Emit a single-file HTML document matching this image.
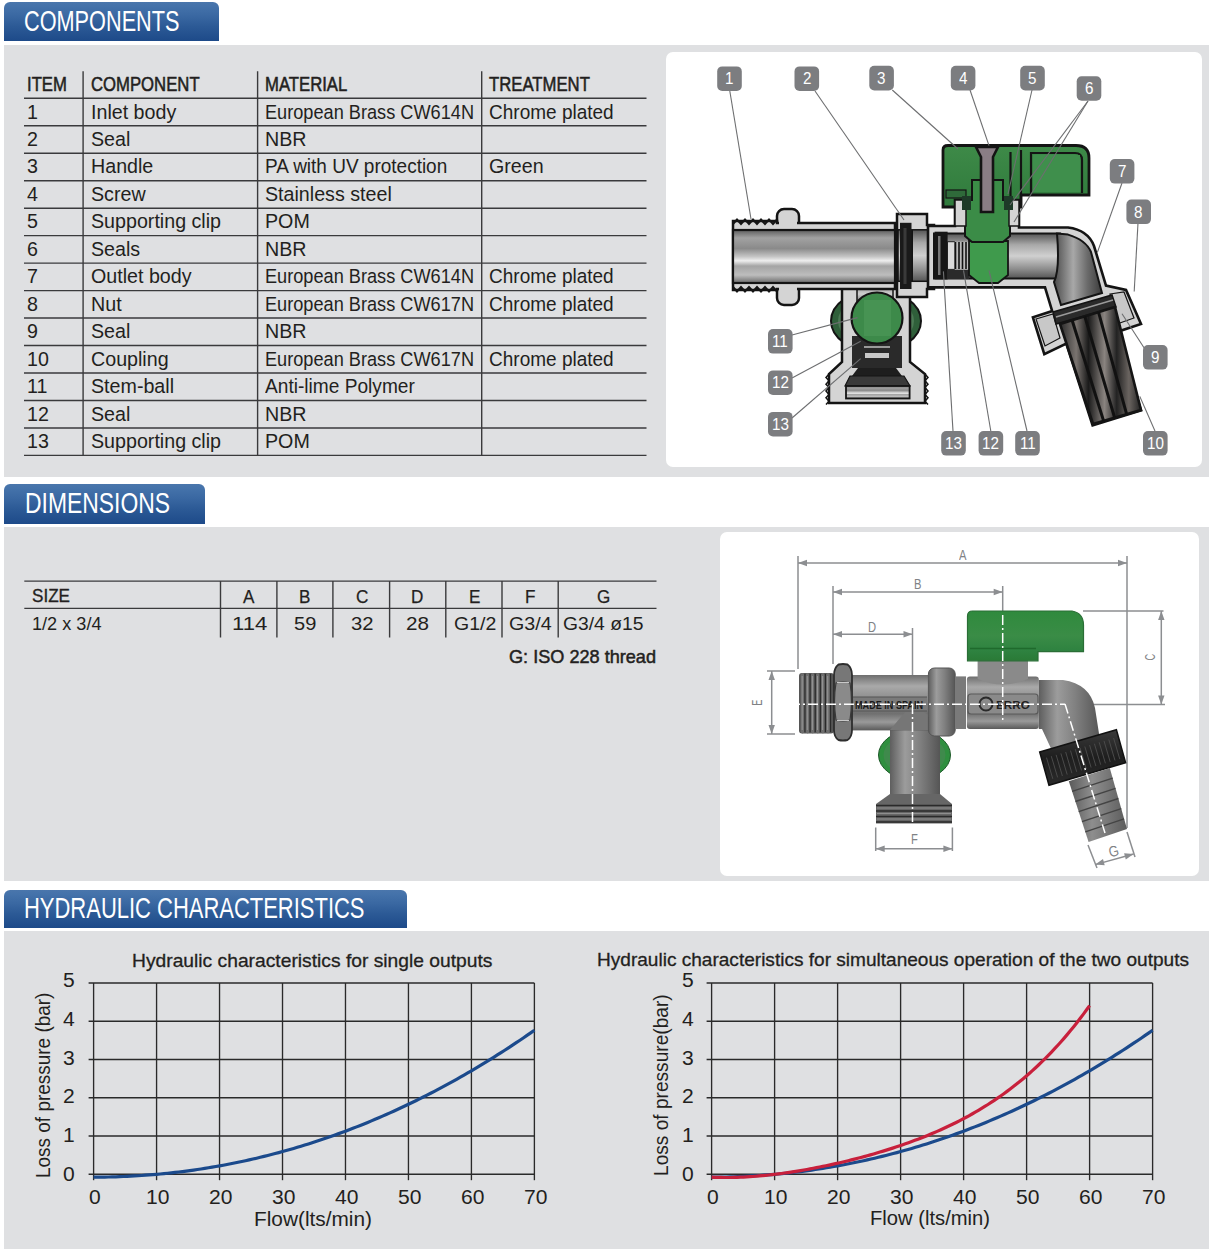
<!DOCTYPE html>
<html><head><meta charset="utf-8"><style>
html,body{margin:0;padding:0;background:#fff;width:1210px;height:1251px;overflow:hidden;position:relative}
.t{position:absolute;white-space:pre;line-height:1;transform-origin:0 0;font-family:"Liberation Sans", sans-serif}
.abs{position:absolute}
</style></head><body>
<div class=abs style="left:4px;top:45px;width:1205px;height:432.0px;background:#dfe0e2"></div>
<div class=abs style="left:4px;top:527px;width:1205px;height:353.6px;background:#dfe0e2"></div>
<div class=abs style="left:4px;top:931.4px;width:1205px;height:317.6px;background:#dfe0e2"></div>
<div class=abs style="left:4px;top:2px;width:215.0px;height:39.0px;border-radius:6px 6px 0 0;background:linear-gradient(#4a76ac 0%,#4472aa 12%,#3a68a2 35%,#2c5a96 62%,#1d4a89 100%)"></div>
<div class=abs style="left:4px;top:484.3px;width:200.5px;height:39.3px;border-radius:6px 6px 0 0;background:linear-gradient(#4a76ac 0%,#4472aa 12%,#3a68a2 35%,#2c5a96 62%,#1d4a89 100%)"></div>
<div class=abs style="left:4px;top:889.8px;width:403.0px;height:38.5px;border-radius:6px 6px 0 0;background:linear-gradient(#4a76ac 0%,#4472aa 12%,#3a68a2 35%,#2c5a96 62%,#1d4a89 100%)"></div>
<div class=abs style="left:666px;top:51.5px;width:536px;height:415.7px;border-radius:7px;background:#fff"></div>
<div class=abs style="left:719.8px;top:531.9px;width:479.3px;height:344px;border-radius:7px;background:#fff"></div>
<svg class=abs style="left:0;top:0" width="1210" height="1251" viewBox="0 0 1210 1251">
<defs>
<linearGradient id="bore" x1="0" y1="0" x2="0" y2="1">
 <stop offset="0" stop-color="#5e5e5e"/><stop offset="0.15" stop-color="#a2a2a2"/><stop offset="0.35" stop-color="#8a8a8a"/>
 <stop offset="0.5" stop-color="#c4c4c4"/><stop offset="0.58" stop-color="#eeeeee"/><stop offset="0.68" stop-color="#a4a4a4"/><stop offset="0.85" stop-color="#bdbdbd"/><stop offset="1" stop-color="#6a6a6a"/>
</linearGradient>
<linearGradient id="bore2" x1="0" y1="0" x2="0" y2="1">
 <stop offset="0" stop-color="#555"/><stop offset="0.25" stop-color="#a8a8a8"/><stop offset="0.5" stop-color="#d0d0d0"/><stop offset="0.8" stop-color="#8a8a8a"/><stop offset="1" stop-color="#555"/>
</linearGradient>
<linearGradient id="tail" x1="0" y1="0" x2="1" y2="0">
 <stop offset="0" stop-color="#2a2a2a"/><stop offset="0.2" stop-color="#7a7470"/><stop offset="0.35" stop-color="#1a1a1a"/><stop offset="0.55" stop-color="#8a8480"/><stop offset="0.7" stop-color="#222"/><stop offset="0.85" stop-color="#6a6460"/><stop offset="1" stop-color="#222"/>
</linearGradient>
<linearGradient id="elb" x1="0" y1="0" x2="1" y2="0">
 <stop offset="0" stop-color="#4a4a4a"/><stop offset="0.4" stop-color="#a8a8a8"/><stop offset="0.7" stop-color="#6a6a6a"/><stop offset="1" stop-color="#3a3a3a"/>
</linearGradient>
<linearGradient id="grn" x1="0" y1="0" x2="0" y2="1">
 <stop offset="0" stop-color="#3e8a48"/><stop offset="1" stop-color="#2f7a3c"/>
</linearGradient>
</defs>
<ellipse cx="876" cy="321" rx="45" ry="31" fill="#2f5f3a" stroke="#141414" stroke-width="2"/>
<ellipse cx="876" cy="321" rx="38" ry="26" fill="#4c7a55"/>
<path d="M842,285 L910,285 L910,362 L925,374 L925,403 L829,403 L829,374 L842,362 Z" fill="#d4d4d4" stroke="#141414" stroke-width="2.5"/>
<rect x="857" y="283" width="36" height="22" fill="url(#bore2)" stroke="#141414" stroke-width="1.5"/>
<path d="M852,336 L902,336 L902,368 L852,368 Z" fill="#2a2a2a"/>
<circle cx="877" cy="318" r="25.5" fill="#3d8a4a" stroke="#141414" stroke-width="2.2"/>
<rect x="864" y="300" width="27" height="36" fill="#4f9a5a" opacity="0.6"/>
<rect x="864" y="346" width="26" height="2" fill="#9a9a9a"/>
<rect x="865" y="353" width="24" height="5" fill="#c8c8c8"/>
<path d="M858,368 L896,368 L902,376 L852,376 Z" fill="#1e1e1e"/>
<path d="M850,376 L904,376 L910,386 L845,386 Z" fill="#3a3a3a" stroke="#141414" stroke-width="1.2"/>
<rect x="846" y="386" width="63.6" height="12.5" fill="url(#bore)" stroke="#141414" stroke-width="1.8"/>
<path d="M829,374 L826,377.4 L829,380.8 L826,384.2 L829,387.6 L826,391.0 L829,394.4 L826,397.8 L829,401.2 L826,404.6" fill="none" stroke="#141414" stroke-width="1.5"/>
<path d="M925,374 L928,377.4 L925,380.8 L928,384.2 L925,387.6 L928,391.0 L925,394.4 L928,397.8 L925,401.2 L928,404.6" fill="none" stroke="#141414" stroke-width="1.5"/>
<rect x="777" y="209" width="22" height="96" rx="7" fill="#d4d4d4" stroke="#141414" stroke-width="2.5"/>
<path d="M733,221 L777,221 L777,223 L895,223 L895,289 L777,289 L777,290 L733,290 Z" fill="#d4d4d4" stroke="#141414" stroke-width="2.5"/>
<rect x="779" y="213" width="18" height="88" fill="#d4d4d4"/>
<path d="M733,224 L737.0,219.5 L741.0,224 L745.0,219.5 L749.0,224 L753.0,219.5 L757.0,224 L761.0,219.5 L765.0,224 L769.0,219.5 L773.0,224 L777.0,219.5" fill="none" stroke="#141414" stroke-width="2"/>
<path d="M733,287 L737.0,291.5 L741.0,287 L745.0,291.5 L749.0,287 L753.0,291.5 L757.0,287 L761.0,291.5 L765.0,287 L769.0,291.5 L773.0,287 L777.0,291.5" fill="none" stroke="#141414" stroke-width="2"/>
<rect x="733" y="230" width="162" height="53" fill="url(#bore)" stroke="#141414" stroke-width="2.2"/>
<path d="M897,214 L927,214 L927,225 L934,225 L934,289 L927,289 L927,297 L897,297 Z" fill="#d4d4d4" stroke="#141414" stroke-width="2.5"/>
<rect x="898" y="229.8" width="36" height="51.5" fill="url(#bore2)" stroke="#141414" stroke-width="1.5"/>
<line x1="912" y1="230" x2="912" y2="281" stroke="#141414" stroke-width="2"/>
<line x1="931.5" y1="230" x2="931.5" y2="281" stroke="#141414" stroke-width="2.2"/>
<rect x="900" y="222.8" width="11.5" height="66.2" fill="#1a1a1a"/>
<rect x="903.5" y="228" width="3" height="56" fill="#3a3a3a"/>
<path d="M943,150 Q943,145.5 948,145.5 L1076,145.5 Q1089,145.5 1089,158 L1089,195 L1021,195 L1021,207 L943,207 Z" fill="url(#grn)" stroke="#141414" stroke-width="2.8"/>
<path d="M1032,153 L1075,153 Q1082,153 1082,160 L1082,193" fill="#3a8a48" stroke="#141414" stroke-width="2.2"/>
<rect x="1033" y="155" width="47" height="37" fill="#3f8f4c"/>
<line x1="1031" y1="152" x2="1031" y2="195" stroke="#141414" stroke-width="2.2"/>
<line x1="1021" y1="150" x2="1021" y2="205" stroke="#141414" stroke-width="2.2"/>
<line x1="1010.5" y1="152" x2="1010.5" y2="200" stroke="#141414" stroke-width="2.2"/>
<rect x="946" y="190" width="20" height="8" fill="#2f6a3a" stroke="#141414" stroke-width="1.2"/>
<path d="M928,226 L955,226 L955,200 L1019,200 L1019,227.5 L1068,227.5 Q1088,230 1094,246 L1106,285.6 L1126,290 L1141,324 L1119,331.3 L1115.5,329.6 L1141,410.4 L1092.6,425.4 L1066.3,343.6 L1044.3,354.2 L1032.9,317.3 L1052.2,311.1 L1045,287.4 L928,287.4 Z" fill="#d4d4d4" stroke="#141414" stroke-width="2.6"/>
<rect x="934" y="233.5" width="126" height="45" fill="url(#bore2)" stroke="#141414" stroke-width="2"/>
<path d="M1057,233.5 L1068,234.6 Q1086,240 1091,252 L1102,293 L1061,305 L1054,282 Q1060,270 1057,233.5 Z" fill="url(#elb)" stroke="#141414" stroke-width="2"/>
<path d="M1036,319 L1053,314 L1060,338 L1045,346 Z" fill="#c8c8c8" stroke="#141414" stroke-width="1.2"/>
<path d="M1110,294 L1124,292 L1134,318 L1117,324 Z" fill="#c8c8c8" stroke="#141414" stroke-width="1.2"/>
<path d="M1053,312 L1112,295 L1116,307 L1056,324 Z" fill="#2a2a2a" stroke="#141414" stroke-width="1.5"/>
<path d="M1056,317 L1113,300" stroke="#9a9a9a" stroke-width="1.5"/>
<path d="M1060,324 L1115,307 L1141,410 L1093,424 Z" fill="url(#tail)" stroke="#141414" stroke-width="2.6" />
<line x1="1072.1" y1="320.3" x2="1103.6" y2="420.9" stroke="#111" stroke-width="3"/>
<line x1="1084.8" y1="316.4" x2="1114.6" y2="417.7" stroke="#111" stroke-width="3"/>
<line x1="1098.5" y1="312.1" x2="1126.6" y2="414.2" stroke="#111" stroke-width="3"/>
<rect x="934.6" y="231.7" width="13" height="47.7" fill="#161616"/>
<rect x="938" y="236" width="2.5" height="39" fill="#777"/>
<rect x="947.5" y="241.7" width="7" height="27.7" fill="#dadada" stroke="#222" stroke-width="1"/>
<rect x="954.5" y="241.7" width="15" height="27.7" fill="#bbb"/>
<line x1="955.5" y1="242" x2="955.5" y2="269" stroke="#111" stroke-width="1.6"/>
<line x1="959" y1="242" x2="959" y2="269" stroke="#111" stroke-width="1.6"/>
<line x1="962.5" y1="242" x2="962.5" y2="269" stroke="#111" stroke-width="1.6"/>
<line x1="966" y1="242" x2="966" y2="269" stroke="#111" stroke-width="1.6"/>
<path d="M947,270 L969,270 L969,279 L947,279 Z" fill="#2a2a2a"/>
<path d="M969,241 L1008,241 L1008,275 L998,283 L979,283 L969,275 Z" fill="#3f9a4c" stroke="#141414" stroke-width="1.8"/>
<path d="M972,180 L1003,180 L1003,200 L1010,200 L1010,236 L1003,242 L972,242 L965,236 L965,200 L972,200 Z" fill="#3b8c47" stroke="#141414" stroke-width="2"/>
<path d="M955,200 L966,200 L966,226 L955,226 Z" fill="#d4d4d4" stroke="#141414" stroke-width="1.5"/>
<path d="M1009,200 L1019,200 L1019,226 L1009,226 Z" fill="#d4d4d4" stroke="#141414" stroke-width="1.5"/>
<rect x="962" y="196" width="9" height="14" fill="#1e3a28"/>
<rect x="1004" y="196" width="9" height="14" fill="#1e3a28"/>
<path d="M976,147 L998,147 L993,157 L993,212 L981,212 L981,157 Z" fill="#8a7d85" stroke="#141414" stroke-width="2.6"/>
<line x1="729.8" y1="91" x2="751" y2="219" stroke="#6d6e70" stroke-width="1.1"/>
<line x1="815" y1="91" x2="904" y2="220" stroke="#6d6e70" stroke-width="1.1"/>
<line x1="892.3" y1="90" x2="958" y2="149" stroke="#6d6e70" stroke-width="1.1"/>
<line x1="970" y1="90" x2="989" y2="145.6" stroke="#6d6e70" stroke-width="1.1"/>
<line x1="1032" y1="90" x2="1008" y2="194" stroke="#6d6e70" stroke-width="1.1"/>
<line x1="1088" y1="101" x2="1010" y2="205" stroke="#6d6e70" stroke-width="1.1"/>
<line x1="1088" y1="101" x2="1014" y2="222" stroke="#6d6e70" stroke-width="1.1"/>
<line x1="1122" y1="183" x2="1097.4" y2="252.4" stroke="#6d6e70" stroke-width="1.1"/>
<line x1="1138" y1="223" x2="1134.2" y2="291.5" stroke="#6d6e70" stroke-width="1.1"/>
<line x1="1150" y1="357" x2="1122" y2="313.8" stroke="#6d6e70" stroke-width="1.1"/>
<line x1="1155" y1="431" x2="1139.8" y2="396.4" stroke="#6d6e70" stroke-width="1.1"/>
<line x1="1027" y1="431" x2="989" y2="270.3" stroke="#6d6e70" stroke-width="1.1"/>
<line x1="990.8" y1="431" x2="963.5" y2="270.3" stroke="#6d6e70" stroke-width="1.1"/>
<line x1="953" y1="431" x2="943.4" y2="271.4" stroke="#6d6e70" stroke-width="1.1"/>
<line x1="792" y1="335" x2="857.5" y2="317.6" stroke="#6d6e70" stroke-width="1.1"/>
<line x1="792" y1="378" x2="860.7" y2="341.3" stroke="#6d6e70" stroke-width="1.1"/>
<line x1="792" y1="418" x2="860.7" y2="358.6" stroke="#6d6e70" stroke-width="1.1"/>
<rect x="717.2" y="66.4" width="24.6" height="24.6" rx="5" fill="#7c7d80"/>
<rect x="794.5" y="66.4" width="24.6" height="24.6" rx="5" fill="#7c7d80"/>
<rect x="869.3" y="65.8" width="24.6" height="24.6" rx="5" fill="#7c7d80"/>
<rect x="950.8" y="65.8" width="24.6" height="24.6" rx="5" fill="#7c7d80"/>
<rect x="1020.2" y="65.8" width="24.6" height="24.6" rx="5" fill="#7c7d80"/>
<rect x="1076.7" y="76.2" width="24.6" height="24.6" rx="5" fill="#7c7d80"/>
<rect x="1109.8" y="159" width="24.6" height="24.6" rx="5" fill="#7c7d80"/>
<rect x="1126.4" y="199.5" width="24.6" height="24.6" rx="5" fill="#7c7d80"/>
<rect x="1143" y="345" width="24.6" height="24.6" rx="5" fill="#7c7d80"/>
<rect x="1143" y="431" width="24.6" height="24.6" rx="5" fill="#7c7d80"/>
<rect x="1015.2" y="431" width="24.6" height="24.6" rx="5" fill="#7c7d80"/>
<rect x="978.6" y="431" width="24.6" height="24.6" rx="5" fill="#7c7d80"/>
<rect x="941.2" y="431" width="24.6" height="24.6" rx="5" fill="#7c7d80"/>
<rect x="768" y="329" width="24.6" height="24.6" rx="5" fill="#7c7d80"/>
<rect x="768" y="370.4" width="24.6" height="24.6" rx="5" fill="#7c7d80"/>
<rect x="768" y="411.9" width="24.6" height="24.6" rx="5" fill="#7c7d80"/>
</svg>
<svg class=abs style="left:0;top:0" width="1210" height="1251" viewBox="0 0 1210 1251">
<defs>
<linearGradient id="dpipe" x1="0" y1="0" x2="0" y2="1">
 <stop offset="0" stop-color="#6e6e6e"/><stop offset="0.2" stop-color="#a9a9a9"/><stop offset="0.45" stop-color="#8a8a8a"/><stop offset="0.7" stop-color="#707070"/><stop offset="0.85" stop-color="#9a9a9a"/><stop offset="1" stop-color="#5a5a5a"/>
</linearGradient>
<linearGradient id="dvert" x1="0" y1="0" x2="1" y2="0">
 <stop offset="0" stop-color="#5e5e5e"/><stop offset="0.3" stop-color="#9c9c9c"/><stop offset="0.6" stop-color="#808080"/><stop offset="1" stop-color="#555"/>
</linearGradient>
<linearGradient id="dthread" x1="0" y1="0" x2="1" y2="0">
 <stop offset="0" stop-color="#505050"/><stop offset="1" stop-color="#6a6a6a"/>
</linearGradient>
<linearGradient id="dgrn" x1="0" y1="0" x2="0" y2="1">
 <stop offset="0" stop-color="#2f8a3d"/><stop offset="0.5" stop-color="#3a8c46"/><stop offset="0.8" stop-color="#2e8240"/><stop offset="1" stop-color="#2a7a36"/>
</linearGradient>
<linearGradient id="dnut" x1="0" y1="0" x2="0" y2="1">
 <stop offset="0" stop-color="#3a3a3a"/><stop offset="0.5" stop-color="#1e1e1e"/><stop offset="1" stop-color="#2a2a2a"/>
</linearGradient>
<linearGradient id="dtail" x1="0" y1="0" x2="1" y2="0">
 <stop offset="0" stop-color="#5a5a5a"/><stop offset="0.4" stop-color="#8e8e8e"/><stop offset="1" stop-color="#5c5c5c"/>
</linearGradient>
</defs>
<line x1="798" y1="563" x2="1127" y2="563" stroke="#8c8e91" stroke-width="1.5"/>
<path d="M1127.0,563.0 L1118.0,566.2 L1118.0,559.8 Z" fill="#8c8e91"/>
<path d="M798.0,563.0 L807.0,559.8 L807.0,566.2 Z" fill="#8c8e91"/>
<line x1="798" y1="556" x2="798" y2="669" stroke="#8c8e91" stroke-width="1.5"/>
<line x1="1127" y1="556" x2="1127" y2="828" stroke="#8c8e91" stroke-width="1.5"/>
<line x1="833" y1="592" x2="1002.7" y2="592" stroke="#8c8e91" stroke-width="1.5"/>
<path d="M1002.7,592.0 L993.7,595.2 L993.7,588.8 Z" fill="#8c8e91"/>
<path d="M833.0,592.0 L842.0,588.8 L842.0,595.2 Z" fill="#8c8e91"/>
<line x1="833" y1="586" x2="833" y2="664" stroke="#8c8e91" stroke-width="1.5"/>
<line x1="1002.7" y1="586" x2="1002.7" y2="611" stroke="#8c8e91" stroke-width="1.5"/>
<line x1="833" y1="634.2" x2="912.5" y2="634.2" stroke="#8c8e91" stroke-width="1.5"/>
<path d="M912.5,634.2 L903.5,637.4 L903.5,631.0 Z" fill="#8c8e91"/>
<path d="M833.0,634.2 L842.0,631.0 L842.0,637.4 Z" fill="#8c8e91"/>
<line x1="912.5" y1="628" x2="912.5" y2="700" stroke="#8c8e91" stroke-width="1.5"/>
<line x1="1161.3" y1="611" x2="1161.3" y2="704.4" stroke="#8c8e91" stroke-width="1.5"/>
<path d="M1161.3,704.4 L1158.1,695.4 L1164.5,695.4 Z" fill="#8c8e91"/>
<path d="M1161.3,611.0 L1164.5,620.0 L1158.1,620.0 Z" fill="#8c8e91"/>
<line x1="1083" y1="611" x2="1163.5" y2="611" stroke="#8c8e91" stroke-width="1.5"/>
<line x1="1090" y1="704.4" x2="1165" y2="704.4" stroke="#8c8e91" stroke-width="1.5"/>
<line x1="771.7" y1="671" x2="771.7" y2="734" stroke="#8c8e91" stroke-width="1.5"/>
<path d="M771.7,734.0 L768.5,725.0 L774.9,725.0 Z" fill="#8c8e91"/>
<path d="M771.7,671.0 L774.9,680.0 L768.5,680.0 Z" fill="#8c8e91"/>
<line x1="767" y1="671" x2="795" y2="671" stroke="#8c8e91" stroke-width="1.5"/>
<line x1="767" y1="734" x2="795" y2="734" stroke="#8c8e91" stroke-width="1.5"/>
<line x1="875.7" y1="848.7" x2="952.4" y2="848.7" stroke="#8c8e91" stroke-width="1.5"/>
<path d="M952.4,848.7 L943.4,851.9 L943.4,845.5 Z" fill="#8c8e91"/>
<path d="M875.7,848.7 L884.7,845.5 L884.7,851.9 Z" fill="#8c8e91"/>
<line x1="875.7" y1="827.5" x2="875.7" y2="851" stroke="#8c8e91" stroke-width="1.5"/>
<line x1="952.4" y1="827.5" x2="952.4" y2="851" stroke="#8c8e91" stroke-width="1.5"/>
<line x1="1095.2" y1="864.6" x2="1133.6" y2="854" stroke="#8c8e91" stroke-width="1.5"/>
<path d="M1133.6,854.0 L1125.8,859.5 L1124.1,853.3 Z" fill="#8c8e91"/>
<path d="M1095.2,864.6 L1103.0,859.1 L1104.7,865.3 Z" fill="#8c8e91"/>
<line x1="1088" y1="845" x2="1097" y2="868" stroke="#8c8e91" stroke-width="1.5"/>
<line x1="1127" y1="832" x2="1135" y2="857" stroke="#8c8e91" stroke-width="1.5"/>
<ellipse cx="914.5" cy="755" rx="36" ry="25" fill="#2f8f3f" stroke="#1d5a28" stroke-width="1"/>
<ellipse cx="914.5" cy="755" rx="31" ry="21" fill="#3f8a4c"/>
<path d="M890,794 L890,730 L905,712 L924,712 L940,729 L940,794 Z" fill="url(#dvert)"/>
<path d="M890,794 L940,794 L952,804 L952,823.5 L876,823.5 L876,804 Z" fill="#666"/>
<line x1="876" y1="805.5" x2="952" y2="805.5" stroke="#2a2a2a" stroke-width="1.7"/>
<line x1="876" y1="811" x2="952" y2="811" stroke="#2a2a2a" stroke-width="1.7"/>
<line x1="876" y1="816.5" x2="952" y2="816.5" stroke="#2a2a2a" stroke-width="1.7"/>
<line x1="876" y1="822" x2="952" y2="822" stroke="#2a2a2a" stroke-width="1.7"/>
<line x1="877" y1="808" x2="951" y2="808" stroke="#8e8e8e" stroke-width="1.2"/>
<line x1="877" y1="813.5" x2="951" y2="813.5" stroke="#8e8e8e" stroke-width="1.2"/>
<line x1="877" y1="819" x2="951" y2="819" stroke="#8e8e8e" stroke-width="1.2"/>
<rect x="799" y="673" width="35" height="60.4" rx="3" fill="#555"/>
<rect x="800.7" y="673" width="3.6" height="60.4" rx="1.8" fill="#6e6e6e"/>
<line x1="802.2" y1="676" x2="802.2" y2="730" stroke="#9a9a9a" stroke-width="0.9"/>
<line x1="805.0" y1="674" x2="805.0" y2="732" stroke="#2a2a2a" stroke-width="1.2"/>
<rect x="805.8" y="673" width="3.6" height="60.4" rx="1.8" fill="#6e6e6e"/>
<line x1="807.3" y1="676" x2="807.3" y2="730" stroke="#9a9a9a" stroke-width="0.9"/>
<line x1="810.1" y1="674" x2="810.1" y2="732" stroke="#2a2a2a" stroke-width="1.2"/>
<rect x="810.9" y="673" width="3.6" height="60.4" rx="1.8" fill="#6e6e6e"/>
<line x1="812.4" y1="676" x2="812.4" y2="730" stroke="#9a9a9a" stroke-width="0.9"/>
<line x1="815.2" y1="674" x2="815.2" y2="732" stroke="#2a2a2a" stroke-width="1.2"/>
<rect x="816.0" y="673" width="3.6" height="60.4" rx="1.8" fill="#6e6e6e"/>
<line x1="817.5" y1="676" x2="817.5" y2="730" stroke="#9a9a9a" stroke-width="0.9"/>
<line x1="820.3" y1="674" x2="820.3" y2="732" stroke="#2a2a2a" stroke-width="1.2"/>
<rect x="821.1" y="673" width="3.6" height="60.4" rx="1.8" fill="#6e6e6e"/>
<line x1="822.6" y1="676" x2="822.6" y2="730" stroke="#9a9a9a" stroke-width="0.9"/>
<line x1="825.4" y1="674" x2="825.4" y2="732" stroke="#2a2a2a" stroke-width="1.2"/>
<rect x="826.2" y="673" width="3.6" height="60.4" rx="1.8" fill="#6e6e6e"/>
<line x1="827.7" y1="676" x2="827.7" y2="730" stroke="#9a9a9a" stroke-width="0.9"/>
<line x1="830.5" y1="674" x2="830.5" y2="732" stroke="#2a2a2a" stroke-width="1.2"/>
<rect x="852" y="675" width="76.4" height="55.4" fill="url(#dpipe)"/>
<rect x="853" y="697" width="74" height="14" fill="#7a7a7a"/>
<path d="M853,697 L927,697 M853,711 L927,711" stroke="#555" stroke-width="1"/>
<text x="855" y="708.5" font-family="Liberation Sans" font-size="10.5" font-weight="700" fill="#1a1a1a" textLength="68" lengthAdjust="spacingAndGlyphs">MADE IN SPAIN</text>
<path d="M838.5,664.5 Q843,663.5 847.5,664.5 Q852,668 852,675 L852,730 Q852,737 847.5,740 Q843,741 838.5,740 Q834,737 834,730 L834,675 Q834,668 838.5,664.5 Z" fill="#777" stroke="#2e2e2e" stroke-width="1.8"/>
<path d="M836,683 Q843,681 850,683 Q853,701 850,720 Q843,722 836,720 Q833,701 836,683 Z" fill="#8a8a8a" stroke="#3a3a3a" stroke-width="1.2"/>
<path d="M837,682.5 L849,682.5 M837,720.5 L849,720.5" stroke="#c8c8c8" stroke-width="1.2"/>
<path d="M890,730 L905,712 L924,712 L928.4,716 L928.4,730 Z" fill="#767676"/>
<rect x="928.4" y="668" width="26.8" height="68" rx="6" fill="url(#dvert)" stroke="#555" stroke-width="1"/>
<rect x="955" y="676.4" width="11" height="52.6" fill="#7a7a7a"/>
<rect x="966.9" y="676.4" width="71.9" height="52.6" rx="3" fill="url(#dpipe)"/>
<rect x="968" y="694" width="70" height="20" rx="3" fill="#8a8a8a" stroke="#5a5a5a" stroke-width="1.2"/>
<circle cx="986" cy="704" r="6.5" fill="none" stroke="#2a2a2a" stroke-width="2"/>
<text x="996" y="708.5" font-family="Liberation Sans" font-size="11" font-weight="700" fill="#222" textLength="34" lengthAdjust="spacingAndGlyphs">ERRO</text>
<path d="M977.6,660 L1028,660 L1028,679 Q1003,690 977.6,679 Z" fill="#8a8a8a"/>
<path d="M1038.8,680 L1063,680 Q1090,684 1095,708 L1100,740 L1054,755 L1042,729 L1038.8,729 Z" fill="url(#dvert)"/>
<path d="M967.5,616 Q967.5,611 972.5,611 L1072,611 Q1083.5,613 1083.5,625 L1083.5,651.7 L1038,651.7 L1038,660.8 L967.5,660.8 Z" fill="url(#dgrn)" stroke="#2a6e36" stroke-width="1.2"/>
<path d="M970,648.5 L1036,648.5" stroke="#1f6a2c" stroke-width="1.6"/>
<path d="M1039.7,752 L1116.4,729.7 L1125.6,762.7 L1049,785.2 Z" fill="url(#dnut)" stroke="#111" stroke-width="1.5"/>
<line x1="1046.5" y1="757.6" x2="1052.8" y2="778.8" stroke="#4a4a4a" stroke-width="1"/>
<line x1="1051.3" y1="756.2" x2="1057.6" y2="777.4" stroke="#4a4a4a" stroke-width="1"/>
<line x1="1056.1" y1="754.8" x2="1062.4" y2="776.0" stroke="#4a4a4a" stroke-width="1"/>
<line x1="1060.9" y1="753.4" x2="1067.2" y2="774.6" stroke="#4a4a4a" stroke-width="1"/>
<line x1="1065.7" y1="752.0" x2="1071.9" y2="773.2" stroke="#4a4a4a" stroke-width="1"/>
<line x1="1070.5" y1="750.6" x2="1076.7" y2="771.8" stroke="#4a4a4a" stroke-width="1"/>
<line x1="1075.3" y1="749.2" x2="1081.5" y2="770.4" stroke="#4a4a4a" stroke-width="1"/>
<line x1="1080.1" y1="747.9" x2="1086.3" y2="769.0" stroke="#4a4a4a" stroke-width="1"/>
<line x1="1084.8" y1="746.5" x2="1091.1" y2="767.5" stroke="#4a4a4a" stroke-width="1"/>
<line x1="1089.6" y1="745.1" x2="1095.9" y2="766.1" stroke="#4a4a4a" stroke-width="1"/>
<line x1="1094.4" y1="743.7" x2="1100.7" y2="764.7" stroke="#4a4a4a" stroke-width="1"/>
<line x1="1099.2" y1="742.3" x2="1105.4" y2="763.3" stroke="#4a4a4a" stroke-width="1"/>
<line x1="1104.0" y1="740.9" x2="1110.2" y2="761.9" stroke="#4a4a4a" stroke-width="1"/>
<line x1="1108.8" y1="739.5" x2="1115.0" y2="760.5" stroke="#4a4a4a" stroke-width="1"/>
<line x1="1113.6" y1="738.1" x2="1119.8" y2="759.1" stroke="#4a4a4a" stroke-width="1"/>
<path d="M1068.8,781.2 L1109.8,768 L1127,828.9 L1088.6,842 Z" fill="url(#dtail)"/>
<line x1="1072.1" y1="791.3" x2="1112.7" y2="778.1" stroke="#444" stroke-width="1.4"/>
<line x1="1075.4" y1="801.5" x2="1115.5" y2="788.3" stroke="#444" stroke-width="1.4"/>
<line x1="1078.7" y1="811.6" x2="1118.4" y2="798.5" stroke="#444" stroke-width="1.4"/>
<line x1="1082.0" y1="821.7" x2="1121.3" y2="808.6" stroke="#444" stroke-width="1.4"/>
<line x1="1085.3" y1="831.9" x2="1124.1" y2="818.8" stroke="#444" stroke-width="1.4"/>
<line x1="790" y1="704.2" x2="1065" y2="704.2" stroke="#ffffff" stroke-width="1.5" stroke-dasharray="10,3,2,3"/>
<line x1="1002.7" y1="615" x2="1002.7" y2="720" stroke="#ffffff" stroke-width="1.5" stroke-dasharray="10,3,2,3"/>
<line x1="912.5" y1="704" x2="912.5" y2="823" stroke="#ffffff" stroke-width="1.5" stroke-dasharray="10,3,2,3"/>
<line x1="1065" y1="704" x2="1105" y2="833" stroke="#ffffff" stroke-width="1.5" stroke-dasharray="10,3,2,3"/>
<text transform="translate(1150.3,657.1) rotate(-90) scale(0.62,1)" text-anchor="middle" dominant-baseline="central" font-family="Liberation Sans" font-size="15" fill="#808285">C</text>
<text transform="translate(757.5,702.6) rotate(-90) scale(0.62,1)" text-anchor="middle" dominant-baseline="central" font-family="Liberation Sans" font-size="15" fill="#808285">E</text>
<text transform="translate(1113.7,851) rotate(-15) scale(0.85,1)" text-anchor="middle" dominant-baseline="central" font-family="Liberation Sans" font-size="15" fill="#808285">G</text>
</svg>
<svg class=abs style="left:0;top:0" width="1210" height="1251" viewBox="0 0 1210 1251">
<line x1="24" y1="98.30" x2="646.5" y2="98.30" stroke="#3a3a3c" stroke-width="1.4"/>
<line x1="24" y1="125.77" x2="646.5" y2="125.77" stroke="#3a3a3c" stroke-width="1.4"/>
<line x1="24" y1="153.24" x2="646.5" y2="153.24" stroke="#3a3a3c" stroke-width="1.4"/>
<line x1="24" y1="180.71" x2="646.5" y2="180.71" stroke="#3a3a3c" stroke-width="1.4"/>
<line x1="24" y1="208.18" x2="646.5" y2="208.18" stroke="#3a3a3c" stroke-width="1.4"/>
<line x1="24" y1="235.65" x2="646.5" y2="235.65" stroke="#3a3a3c" stroke-width="1.4"/>
<line x1="24" y1="263.12" x2="646.5" y2="263.12" stroke="#3a3a3c" stroke-width="1.4"/>
<line x1="24" y1="290.59" x2="646.5" y2="290.59" stroke="#3a3a3c" stroke-width="1.4"/>
<line x1="24" y1="318.06" x2="646.5" y2="318.06" stroke="#3a3a3c" stroke-width="1.4"/>
<line x1="24" y1="345.53" x2="646.5" y2="345.53" stroke="#3a3a3c" stroke-width="1.4"/>
<line x1="24" y1="373.00" x2="646.5" y2="373.00" stroke="#3a3a3c" stroke-width="1.4"/>
<line x1="24" y1="400.47" x2="646.5" y2="400.47" stroke="#3a3a3c" stroke-width="1.4"/>
<line x1="24" y1="427.94" x2="646.5" y2="427.94" stroke="#3a3a3c" stroke-width="1.4"/>
<line x1="24" y1="455.41" x2="646.5" y2="455.41" stroke="#3a3a3c" stroke-width="1.4"/>
<line x1="83.1" y1="71.2" x2="83.1" y2="455.4" stroke="#3a3a3c" stroke-width="1.4"/>
<line x1="257.6" y1="71.2" x2="257.6" y2="455.4" stroke="#3a3a3c" stroke-width="1.4"/>
<line x1="481.7" y1="71.2" x2="481.7" y2="455.4" stroke="#3a3a3c" stroke-width="1.4"/>
<line x1="24.3" y1="581.1" x2="656.5" y2="581.1" stroke="#3a3a3c" stroke-width="1.4"/>
<line x1="24.3" y1="608.4" x2="656.5" y2="608.4" stroke="#3a3a3c" stroke-width="1.4"/>
<line x1="220.5" y1="581.1" x2="220.5" y2="637.5" stroke="#3a3a3c" stroke-width="1.4"/>
<line x1="276.9" y1="581.1" x2="276.9" y2="637.5" stroke="#3a3a3c" stroke-width="1.4"/>
<line x1="332.9" y1="581.1" x2="332.9" y2="637.5" stroke="#3a3a3c" stroke-width="1.4"/>
<line x1="389.6" y1="581.1" x2="389.6" y2="637.5" stroke="#3a3a3c" stroke-width="1.4"/>
<line x1="445.8" y1="581.1" x2="445.8" y2="637.5" stroke="#3a3a3c" stroke-width="1.4"/>
<line x1="502" y1="581.1" x2="502" y2="637.5" stroke="#3a3a3c" stroke-width="1.4"/>
<line x1="558.2" y1="581.1" x2="558.2" y2="637.5" stroke="#3a3a3c" stroke-width="1.4"/>
<line x1="88.6" y1="1174.20" x2="534.39" y2="1174.20" stroke="#2a2a2a" stroke-width="1.35"/>
<line x1="88.6" y1="1135.96" x2="534.39" y2="1135.96" stroke="#2a2a2a" stroke-width="1.35"/>
<line x1="88.6" y1="1097.72" x2="534.39" y2="1097.72" stroke="#2a2a2a" stroke-width="1.35"/>
<line x1="88.6" y1="1059.48" x2="534.39" y2="1059.48" stroke="#2a2a2a" stroke-width="1.35"/>
<line x1="88.6" y1="1021.24" x2="534.39" y2="1021.24" stroke="#2a2a2a" stroke-width="1.35"/>
<line x1="88.6" y1="983.00" x2="534.39" y2="983.00" stroke="#2a2a2a" stroke-width="1.35"/>
<line x1="93.60" y1="983.00" x2="93.60" y2="1180.20" stroke="#2a2a2a" stroke-width="1.35"/>
<line x1="156.57" y1="983.00" x2="156.57" y2="1180.20" stroke="#2a2a2a" stroke-width="1.35"/>
<line x1="219.54" y1="983.00" x2="219.54" y2="1180.20" stroke="#2a2a2a" stroke-width="1.35"/>
<line x1="282.51" y1="983.00" x2="282.51" y2="1180.20" stroke="#2a2a2a" stroke-width="1.35"/>
<line x1="345.48" y1="983.00" x2="345.48" y2="1180.20" stroke="#2a2a2a" stroke-width="1.35"/>
<line x1="408.45" y1="983.00" x2="408.45" y2="1180.20" stroke="#2a2a2a" stroke-width="1.35"/>
<line x1="471.42" y1="983.00" x2="471.42" y2="1180.20" stroke="#2a2a2a" stroke-width="1.35"/>
<line x1="534.39" y1="983.00" x2="534.39" y2="1180.20" stroke="#2a2a2a" stroke-width="1.35"/>
<path d="M93.60,1177.18 L97.30,1177.16 L101.01,1177.12 L104.71,1177.07 L108.42,1176.99 L112.12,1176.90 L115.82,1176.79 L119.53,1176.66 L123.23,1176.51 L126.94,1176.35 L130.64,1176.16 L134.35,1175.95 L138.05,1175.73 L141.75,1175.49 L145.46,1175.22 L149.16,1174.94 L152.87,1174.64 L156.57,1174.32 L160.27,1173.98 L163.98,1173.62 L167.68,1173.25 L171.39,1172.85 L175.09,1172.43 L178.79,1171.99 L182.50,1171.54 L186.20,1171.06 L189.91,1170.56 L193.61,1170.05 L197.32,1169.51 L201.02,1168.96 L204.72,1168.38 L208.43,1167.79 L212.13,1167.17 L215.84,1166.53 L219.54,1165.88 L223.24,1165.20 L226.95,1164.50 L230.65,1163.79 L234.36,1163.05 L238.06,1162.29 L241.76,1161.51 L245.47,1160.71 L249.17,1159.89 L252.88,1159.05 L256.58,1158.19 L260.29,1157.31 L263.99,1156.40 L267.69,1155.48 L271.40,1154.54 L275.10,1153.57 L278.81,1152.58 L282.51,1151.57 L286.21,1150.54 L289.92,1149.49 L293.62,1148.42 L297.33,1147.33 L301.03,1146.21 L304.73,1145.07 L308.44,1143.92 L312.14,1142.74 L315.85,1141.53 L319.55,1140.31 L323.26,1139.07 L326.96,1137.80 L330.66,1136.51 L334.37,1135.20 L338.07,1133.87 L341.78,1132.51 L345.48,1131.14 L349.18,1129.74 L352.89,1128.32 L356.59,1126.87 L360.30,1125.41 L364.00,1123.92 L367.70,1122.41 L371.41,1120.87 L375.11,1119.32 L378.82,1117.74 L382.52,1116.14 L386.23,1114.52 L389.93,1112.87 L393.63,1111.20 L397.34,1109.51 L401.04,1107.79 L404.75,1106.06 L408.45,1104.29 L412.15,1102.51 L415.86,1100.70 L419.56,1098.87 L423.27,1097.02 L426.97,1095.14 L430.67,1093.24 L434.38,1091.32 L438.08,1089.37 L441.79,1087.40 L445.49,1085.40 L449.20,1083.39 L452.90,1081.34 L456.60,1079.28 L460.31,1077.19 L464.01,1075.07 L467.72,1072.94 L471.42,1070.78 L475.12,1068.59 L478.83,1066.38 L482.53,1064.15 L486.24,1061.89 L489.94,1059.61 L493.64,1057.30 L497.35,1054.97 L501.05,1052.61 L504.76,1050.23 L508.46,1047.83 L512.17,1045.40 L515.87,1042.95 L519.57,1040.47 L523.28,1037.97 L526.98,1035.44 L530.69,1032.89 L534.39,1030.31" fill="none" stroke="#1b4a8c" stroke-width="3.2" stroke-linejoin="round"/>
<line x1="706.6" y1="1174.20" x2="1152.60" y2="1174.20" stroke="#2a2a2a" stroke-width="1.35"/>
<line x1="706.6" y1="1135.96" x2="1152.60" y2="1135.96" stroke="#2a2a2a" stroke-width="1.35"/>
<line x1="706.6" y1="1097.72" x2="1152.60" y2="1097.72" stroke="#2a2a2a" stroke-width="1.35"/>
<line x1="706.6" y1="1059.48" x2="1152.60" y2="1059.48" stroke="#2a2a2a" stroke-width="1.35"/>
<line x1="706.6" y1="1021.24" x2="1152.60" y2="1021.24" stroke="#2a2a2a" stroke-width="1.35"/>
<line x1="706.6" y1="983.00" x2="1152.60" y2="983.00" stroke="#2a2a2a" stroke-width="1.35"/>
<line x1="711.60" y1="983.00" x2="711.60" y2="1180.20" stroke="#2a2a2a" stroke-width="1.35"/>
<line x1="774.60" y1="983.00" x2="774.60" y2="1180.20" stroke="#2a2a2a" stroke-width="1.35"/>
<line x1="837.60" y1="983.00" x2="837.60" y2="1180.20" stroke="#2a2a2a" stroke-width="1.35"/>
<line x1="900.60" y1="983.00" x2="900.60" y2="1180.20" stroke="#2a2a2a" stroke-width="1.35"/>
<line x1="963.60" y1="983.00" x2="963.60" y2="1180.20" stroke="#2a2a2a" stroke-width="1.35"/>
<line x1="1026.60" y1="983.00" x2="1026.60" y2="1180.20" stroke="#2a2a2a" stroke-width="1.35"/>
<line x1="1089.60" y1="983.00" x2="1089.60" y2="1180.20" stroke="#2a2a2a" stroke-width="1.35"/>
<line x1="1152.60" y1="983.00" x2="1152.60" y2="1180.20" stroke="#2a2a2a" stroke-width="1.35"/>
<path d="M711.60,1177.18 L715.31,1177.16 L719.01,1177.12 L722.72,1177.07 L726.42,1176.99 L730.13,1176.90 L733.84,1176.79 L737.54,1176.66 L741.25,1176.51 L744.95,1176.35 L748.66,1176.16 L752.36,1175.95 L756.07,1175.73 L759.78,1175.49 L763.48,1175.22 L767.19,1174.94 L770.89,1174.64 L774.60,1174.32 L778.31,1173.98 L782.01,1173.62 L785.72,1173.25 L789.42,1172.85 L793.13,1172.43 L796.84,1171.99 L800.54,1171.54 L804.25,1171.06 L807.95,1170.56 L811.66,1170.05 L815.36,1169.51 L819.07,1168.96 L822.78,1168.38 L826.48,1167.79 L830.19,1167.17 L833.89,1166.53 L837.60,1165.88 L841.31,1165.20 L845.01,1164.50 L848.72,1163.79 L852.42,1163.05 L856.13,1162.29 L859.84,1161.51 L863.54,1160.71 L867.25,1159.89 L870.95,1159.05 L874.66,1158.19 L878.36,1157.31 L882.07,1156.40 L885.78,1155.48 L889.48,1154.54 L893.19,1153.57 L896.89,1152.58 L900.60,1151.57 L904.31,1150.54 L908.01,1149.49 L911.72,1148.42 L915.42,1147.33 L919.13,1146.21 L922.84,1145.07 L926.54,1143.92 L930.25,1142.74 L933.95,1141.53 L937.66,1140.31 L941.36,1139.07 L945.07,1137.80 L948.78,1136.51 L952.48,1135.20 L956.19,1133.87 L959.89,1132.51 L963.60,1131.14 L967.31,1129.74 L971.01,1128.32 L974.72,1126.87 L978.42,1125.41 L982.13,1123.92 L985.84,1122.41 L989.54,1120.87 L993.25,1119.32 L996.95,1117.74 L1000.66,1116.14 L1004.36,1114.52 L1008.07,1112.87 L1011.78,1111.20 L1015.48,1109.51 L1019.19,1107.79 L1022.89,1106.06 L1026.60,1104.29 L1030.31,1102.51 L1034.01,1100.70 L1037.72,1098.87 L1041.42,1097.02 L1045.13,1095.14 L1048.84,1093.24 L1052.54,1091.32 L1056.25,1089.37 L1059.95,1087.40 L1063.66,1085.40 L1067.36,1083.39 L1071.07,1081.34 L1074.78,1079.28 L1078.48,1077.19 L1082.19,1075.07 L1085.89,1072.94 L1089.60,1070.78 L1093.31,1068.59 L1097.01,1066.38 L1100.72,1064.15 L1104.42,1061.89 L1108.13,1059.61 L1111.84,1057.30 L1115.54,1054.97 L1119.25,1052.61 L1122.95,1050.23 L1126.66,1047.83 L1130.36,1045.40 L1134.07,1042.95 L1137.78,1040.47 L1141.48,1037.97 L1145.19,1035.44 L1148.89,1032.89 L1152.60,1030.31" fill="none" stroke="#1b4a8c" stroke-width="3.2" stroke-linejoin="round"/>
<path d="M711.60,1177.17 L714.78,1177.31 L717.95,1177.41 L721.13,1177.47 L724.31,1177.50 L727.48,1177.51 L730.66,1177.48 L733.84,1177.42 L737.01,1177.33 L740.19,1177.21 L743.36,1177.07 L746.54,1176.90 L749.72,1176.70 L752.89,1176.48 L756.07,1176.23 L759.25,1175.96 L762.42,1175.67 L765.60,1175.36 L768.78,1175.02 L771.95,1174.66 L775.13,1174.28 L778.31,1173.88 L781.48,1173.47 L784.66,1173.03 L787.84,1172.57 L791.01,1172.10 L794.19,1171.61 L797.36,1171.10 L800.54,1170.57 L803.72,1170.02 L806.89,1169.46 L810.07,1168.88 L813.25,1168.29 L816.42,1167.68 L819.60,1167.05 L822.78,1166.41 L825.95,1165.75 L829.13,1165.08 L832.31,1164.39 L835.48,1163.68 L838.66,1162.96 L841.84,1162.22 L845.01,1161.47 L848.19,1160.70 L851.36,1159.91 L854.54,1159.11 L857.72,1158.29 L860.89,1157.46 L864.07,1156.61 L867.25,1155.74 L870.42,1154.85 L873.60,1153.95 L876.78,1153.03 L879.95,1152.08 L883.13,1151.12 L886.31,1150.15 L889.48,1149.15 L892.66,1148.13 L895.84,1147.09 L899.01,1146.02 L902.19,1144.94 L905.36,1143.83 L908.54,1142.71 L911.72,1141.55 L914.89,1140.37 L918.07,1139.17 L921.25,1137.94 L924.42,1136.68 L927.60,1135.40 L930.78,1134.09 L933.95,1132.75 L937.13,1131.37 L940.31,1129.97 L943.48,1128.54 L946.66,1127.07 L949.84,1125.57 L953.01,1124.03 L956.19,1122.45 L959.36,1120.84 L962.54,1119.19 L965.72,1117.51 L968.89,1115.78 L972.07,1114.01 L975.25,1112.19 L978.42,1110.33 L981.60,1108.43 L984.78,1106.48 L987.95,1104.48 L991.13,1102.43 L994.31,1100.33 L997.48,1098.18 L1000.66,1095.98 L1003.84,1093.72 L1007.01,1091.40 L1010.19,1089.02 L1013.36,1086.59 L1016.54,1084.09 L1019.72,1081.53 L1022.89,1078.91 L1026.07,1076.21 L1029.25,1073.46 L1032.42,1070.63 L1035.60,1067.73 L1038.78,1064.75 L1041.95,1061.70 L1045.13,1058.58 L1048.31,1055.37 L1051.48,1052.09 L1054.66,1048.72 L1057.84,1045.27 L1061.01,1041.73 L1064.19,1038.10 L1067.36,1034.38 L1070.54,1030.57 L1073.72,1026.66 L1076.89,1022.66 L1080.07,1018.56 L1083.25,1014.36 L1086.42,1010.05 L1089.60,1005.64" fill="none" stroke="#c8203c" stroke-width="3.2" stroke-linejoin="round"/>
</svg>
<div class=t style="left:44.2px;top:1178.3px;font-size:19.5px;color:#231f20;transform-origin:0 0;transform:rotate(-90deg) translate(0,-10px) scaleX(0.972)">Loss of pressure (bar)</div>
<div class=t style="left:661.5px;top:1176.1px;font-size:19.5px;color:#231f20;transform-origin:0 0;transform:rotate(-90deg) translate(0,-10px) scaleX(0.98)">Loss of pressure(bar)</div>
<div class=t style="left:24.00px;top:6.65px;font-size:29px;font-weight:400;color:#ffffff;transform:scaleX(0.7482);">COMPONENTS</div>
<div class=t style="left:24.60px;top:488.85px;font-size:29px;font-weight:400;color:#ffffff;transform:scaleX(0.7894);">DIMENSIONS</div>
<div class=t style="left:23.60px;top:894.45px;font-size:29px;font-weight:400;color:#ffffff;transform:scaleX(0.7574);">HYDRAULIC CHARACTERISTICS</div>
<div class=t style="left:27.40px;top:73.75px;font-size:20.5px;font-weight:400;color:#231f20;transform:scaleX(0.8149);-webkit-text-stroke:0.55px #231f20">ITEM</div>
<div class=t style="left:91.00px;top:73.75px;font-size:20.5px;font-weight:400;color:#231f20;transform:scaleX(0.8149);-webkit-text-stroke:0.55px #231f20">COMPONENT</div>
<div class=t style="left:265.20px;top:73.75px;font-size:20.5px;font-weight:400;color:#231f20;transform:scaleX(0.8149);-webkit-text-stroke:0.55px #231f20">MATERIAL</div>
<div class=t style="left:488.80px;top:73.75px;font-size:20.5px;font-weight:400;color:#231f20;transform:scaleX(0.8149);-webkit-text-stroke:0.55px #231f20">TREATMENT</div>
<div class=t style="left:27.40px;top:101.52px;font-size:20.5px;font-weight:400;color:#231f20;transform:scaleX(0.9589);">1</div>
<div class=t style="left:91.00px;top:101.52px;font-size:20.5px;font-weight:400;color:#231f20;transform:scaleX(0.9589);">Inlet body</div>
<div class=t style="left:265.20px;top:101.52px;font-size:20.5px;font-weight:400;color:#231f20;transform:scaleX(0.8861);">European Brass CW614N</div>
<div class=t style="left:488.80px;top:101.52px;font-size:20.5px;font-weight:400;color:#231f20;transform:scaleX(0.9272);">Chrome plated</div>
<div class=t style="left:27.40px;top:128.99px;font-size:20.5px;font-weight:400;color:#231f20;transform:scaleX(0.9589);">2</div>
<div class=t style="left:91.00px;top:128.99px;font-size:20.5px;font-weight:400;color:#231f20;transform:scaleX(0.9589);">Seal</div>
<div class=t style="left:265.20px;top:128.99px;font-size:20.5px;font-weight:400;color:#231f20;transform:scaleX(0.9589);">NBR</div>
<div class=t style="left:27.40px;top:156.46px;font-size:20.5px;font-weight:400;color:#231f20;transform:scaleX(0.9589);">3</div>
<div class=t style="left:91.00px;top:156.46px;font-size:20.5px;font-weight:400;color:#231f20;transform:scaleX(0.9589);">Handle</div>
<div class=t style="left:265.20px;top:156.46px;font-size:20.5px;font-weight:400;color:#231f20;transform:scaleX(0.9263);">PA with UV protection</div>
<div class=t style="left:488.80px;top:156.46px;font-size:20.5px;font-weight:400;color:#231f20;transform:scaleX(0.9589);">Green</div>
<div class=t style="left:27.40px;top:183.93px;font-size:20.5px;font-weight:400;color:#231f20;transform:scaleX(0.9589);">4</div>
<div class=t style="left:91.00px;top:183.93px;font-size:20.5px;font-weight:400;color:#231f20;transform:scaleX(0.9589);">Screw</div>
<div class=t style="left:265.20px;top:183.93px;font-size:20.5px;font-weight:400;color:#231f20;transform:scaleX(0.9589);">Stainless steel</div>
<div class=t style="left:27.40px;top:211.40px;font-size:20.5px;font-weight:400;color:#231f20;transform:scaleX(0.9589);">5</div>
<div class=t style="left:91.00px;top:211.40px;font-size:20.5px;font-weight:400;color:#231f20;transform:scaleX(0.9589);">Supporting clip</div>
<div class=t style="left:265.20px;top:211.40px;font-size:20.5px;font-weight:400;color:#231f20;transform:scaleX(0.9589);">POM</div>
<div class=t style="left:27.40px;top:238.87px;font-size:20.5px;font-weight:400;color:#231f20;transform:scaleX(0.9589);">6</div>
<div class=t style="left:91.00px;top:238.87px;font-size:20.5px;font-weight:400;color:#231f20;transform:scaleX(0.9589);">Seals</div>
<div class=t style="left:265.20px;top:238.87px;font-size:20.5px;font-weight:400;color:#231f20;transform:scaleX(0.9589);">NBR</div>
<div class=t style="left:27.40px;top:266.34px;font-size:20.5px;font-weight:400;color:#231f20;transform:scaleX(0.9589);">7</div>
<div class=t style="left:91.00px;top:266.34px;font-size:20.5px;font-weight:400;color:#231f20;transform:scaleX(0.9589);">Outlet body</div>
<div class=t style="left:265.20px;top:266.34px;font-size:20.5px;font-weight:400;color:#231f20;transform:scaleX(0.8861);">European Brass CW614N</div>
<div class=t style="left:488.80px;top:266.34px;font-size:20.5px;font-weight:400;color:#231f20;transform:scaleX(0.9272);">Chrome plated</div>
<div class=t style="left:27.40px;top:293.81px;font-size:20.5px;font-weight:400;color:#231f20;transform:scaleX(0.9589);">8</div>
<div class=t style="left:91.00px;top:293.81px;font-size:20.5px;font-weight:400;color:#231f20;transform:scaleX(0.9589);">Nut</div>
<div class=t style="left:265.20px;top:293.81px;font-size:20.5px;font-weight:400;color:#231f20;transform:scaleX(0.8861);">European Brass CW617N</div>
<div class=t style="left:488.80px;top:293.81px;font-size:20.5px;font-weight:400;color:#231f20;transform:scaleX(0.9272);">Chrome plated</div>
<div class=t style="left:27.40px;top:321.28px;font-size:20.5px;font-weight:400;color:#231f20;transform:scaleX(0.9589);">9</div>
<div class=t style="left:91.00px;top:321.28px;font-size:20.5px;font-weight:400;color:#231f20;transform:scaleX(0.9589);">Seal</div>
<div class=t style="left:265.20px;top:321.28px;font-size:20.5px;font-weight:400;color:#231f20;transform:scaleX(0.9589);">NBR</div>
<div class=t style="left:27.40px;top:348.75px;font-size:20.5px;font-weight:400;color:#231f20;transform:scaleX(0.9589);">10</div>
<div class=t style="left:91.00px;top:348.75px;font-size:20.5px;font-weight:400;color:#231f20;transform:scaleX(0.9589);">Coupling</div>
<div class=t style="left:265.20px;top:348.75px;font-size:20.5px;font-weight:400;color:#231f20;transform:scaleX(0.8861);">European Brass CW617N</div>
<div class=t style="left:488.80px;top:348.75px;font-size:20.5px;font-weight:400;color:#231f20;transform:scaleX(0.9272);">Chrome plated</div>
<div class=t style="left:27.40px;top:376.22px;font-size:20.5px;font-weight:400;color:#231f20;transform:scaleX(0.9589);">11</div>
<div class=t style="left:91.00px;top:376.22px;font-size:20.5px;font-weight:400;color:#231f20;transform:scaleX(0.9589);">Stem-ball</div>
<div class=t style="left:265.20px;top:376.22px;font-size:20.5px;font-weight:400;color:#231f20;transform:scaleX(0.9330);">Anti-lime Polymer</div>
<div class=t style="left:27.40px;top:403.69px;font-size:20.5px;font-weight:400;color:#231f20;transform:scaleX(0.9589);">12</div>
<div class=t style="left:91.00px;top:403.69px;font-size:20.5px;font-weight:400;color:#231f20;transform:scaleX(0.9589);">Seal</div>
<div class=t style="left:265.20px;top:403.69px;font-size:20.5px;font-weight:400;color:#231f20;transform:scaleX(0.9589);">NBR</div>
<div class=t style="left:27.40px;top:431.16px;font-size:20.5px;font-weight:400;color:#231f20;transform:scaleX(0.9589);">13</div>
<div class=t style="left:91.00px;top:431.16px;font-size:20.5px;font-weight:400;color:#231f20;transform:scaleX(0.9589);">Supporting clip</div>
<div class=t style="left:265.20px;top:431.16px;font-size:20.5px;font-weight:400;color:#231f20;transform:scaleX(0.9589);">POM</div>
<div class=t style="left:32.20px;top:586.22px;font-size:19px;font-weight:400;color:#231f20;transform:scaleX(0.9000);-webkit-text-stroke:0.35px #231f20">SIZE</div>
<div class=t style="left:31.60px;top:614.22px;font-size:19px;font-weight:400;color:#231f20;transform:scaleX(0.9535);">1/2 x 3/4</div>
<div class=t style="left:243.49px;top:586.72px;font-size:19px;font-weight:400;color:#231f20;transform:scaleX(0.9000);-webkit-text-stroke:0.25px #231f20">A</div>
<div class=t style="left:231.95px;top:614.22px;font-size:19px;font-weight:400;color:#231f20;transform:scaleX(1.1651);">114</div>
<div class=t style="left:298.99px;top:586.72px;font-size:19px;font-weight:400;color:#231f20;transform:scaleX(0.9000);-webkit-text-stroke:0.25px #231f20">B</div>
<div class=t style="left:293.75px;top:614.22px;font-size:19px;font-weight:400;color:#231f20;transform:scaleX(1.0548);">59</div>
<div class=t style="left:355.62px;top:586.72px;font-size:19px;font-weight:400;color:#231f20;transform:scaleX(0.9000);-webkit-text-stroke:0.25px #231f20">C</div>
<div class=t style="left:350.90px;top:614.22px;font-size:19px;font-weight:400;color:#231f20;transform:scaleX(1.0643);">32</div>
<div class=t style="left:410.82px;top:586.72px;font-size:19px;font-weight:400;color:#231f20;transform:scaleX(0.9000);-webkit-text-stroke:0.25px #231f20">D</div>
<div class=t style="left:405.75px;top:614.22px;font-size:19px;font-weight:400;color:#231f20;transform:scaleX(1.0880);">28</div>
<div class=t style="left:469.39px;top:586.72px;font-size:19px;font-weight:400;color:#231f20;transform:scaleX(0.9000);-webkit-text-stroke:0.25px #231f20">E</div>
<div class=t style="left:453.75px;top:614.22px;font-size:19px;font-weight:400;color:#231f20;transform:scaleX(1.0266);">G1/2</div>
<div class=t style="left:524.78px;top:586.72px;font-size:19px;font-weight:400;color:#231f20;transform:scaleX(0.9000);-webkit-text-stroke:0.25px #231f20">F</div>
<div class=t style="left:509.05px;top:614.22px;font-size:19px;font-weight:400;color:#231f20;transform:scaleX(1.0339);">G3/4</div>
<div class=t style="left:596.95px;top:586.72px;font-size:19px;font-weight:400;color:#231f20;transform:scaleX(0.9000);-webkit-text-stroke:0.25px #231f20">G</div>
<div class=t style="left:562.85px;top:614.22px;font-size:19px;font-weight:400;color:#231f20;transform:scaleX(1.0149);">G3/4 ø15</div>
<div class=t style="left:509.00px;top:646.62px;font-size:19px;font-weight:400;color:#231f20;transform:scaleX(0.9533);-webkit-text-stroke:0.5px #231f20">G: ISO 228 thread</div>
<div class=t style="left:131.60px;top:950.62px;font-size:19px;font-weight:400;color:#231f20;transform:scaleX(1.0130);-webkit-text-stroke:0.3px #231f20">Hydraulic characteristics for single outputs</div>
<div class=t style="left:597.20px;top:950.12px;font-size:19px;font-weight:400;color:#231f20;transform:scaleX(1.0028);-webkit-text-stroke:0.3px #231f20">Hydraulic characteristics for simultaneous operation of the two outputs</div>
<div class=t style="left:63.07px;top:1165.39px;font-size:19.5px;font-weight:400;color:#231f20;transform:scaleX(1.0800);">0</div>
<div class=t style="left:63.07px;top:1126.43px;font-size:19.5px;font-weight:400;color:#231f20;transform:scaleX(1.0800);">1</div>
<div class=t style="left:63.07px;top:1087.47px;font-size:19.5px;font-weight:400;color:#231f20;transform:scaleX(1.0800);">2</div>
<div class=t style="left:63.07px;top:1048.51px;font-size:19.5px;font-weight:400;color:#231f20;transform:scaleX(1.0800);">3</div>
<div class=t style="left:63.07px;top:1009.55px;font-size:19.5px;font-weight:400;color:#231f20;transform:scaleX(1.0800);">4</div>
<div class=t style="left:63.07px;top:970.59px;font-size:19.5px;font-weight:400;color:#231f20;transform:scaleX(1.0800);">5</div>
<div class=t style="left:88.74px;top:1188.19px;font-size:19.5px;font-weight:400;color:#231f20;transform:scaleX(1.0800);">0</div>
<div class=t style="left:145.85px;top:1188.19px;font-size:19.5px;font-weight:400;color:#231f20;transform:scaleX(1.0800);">10</div>
<div class=t style="left:208.82px;top:1188.19px;font-size:19.5px;font-weight:400;color:#231f20;transform:scaleX(1.0800);">20</div>
<div class=t style="left:271.79px;top:1188.19px;font-size:19.5px;font-weight:400;color:#231f20;transform:scaleX(1.0800);">30</div>
<div class=t style="left:334.76px;top:1188.19px;font-size:19.5px;font-weight:400;color:#231f20;transform:scaleX(1.0800);">40</div>
<div class=t style="left:397.73px;top:1188.19px;font-size:19.5px;font-weight:400;color:#231f20;transform:scaleX(1.0800);">50</div>
<div class=t style="left:460.70px;top:1188.19px;font-size:19.5px;font-weight:400;color:#231f20;transform:scaleX(1.0800);">60</div>
<div class=t style="left:523.67px;top:1188.19px;font-size:19.5px;font-weight:400;color:#231f20;transform:scaleX(1.0800);">70</div>
<div class=t style="left:682.17px;top:1165.39px;font-size:19.5px;font-weight:400;color:#231f20;transform:scaleX(1.0800);">0</div>
<div class=t style="left:682.17px;top:1126.43px;font-size:19.5px;font-weight:400;color:#231f20;transform:scaleX(1.0800);">1</div>
<div class=t style="left:682.17px;top:1087.47px;font-size:19.5px;font-weight:400;color:#231f20;transform:scaleX(1.0800);">2</div>
<div class=t style="left:682.17px;top:1048.51px;font-size:19.5px;font-weight:400;color:#231f20;transform:scaleX(1.0800);">3</div>
<div class=t style="left:682.17px;top:1009.55px;font-size:19.5px;font-weight:400;color:#231f20;transform:scaleX(1.0800);">4</div>
<div class=t style="left:682.17px;top:970.59px;font-size:19.5px;font-weight:400;color:#231f20;transform:scaleX(1.0800);">5</div>
<div class=t style="left:706.74px;top:1188.19px;font-size:19.5px;font-weight:400;color:#231f20;transform:scaleX(1.0800);">0</div>
<div class=t style="left:763.85px;top:1188.19px;font-size:19.5px;font-weight:400;color:#231f20;transform:scaleX(1.0800);">10</div>
<div class=t style="left:826.82px;top:1188.19px;font-size:19.5px;font-weight:400;color:#231f20;transform:scaleX(1.0800);">20</div>
<div class=t style="left:889.79px;top:1188.19px;font-size:19.5px;font-weight:400;color:#231f20;transform:scaleX(1.0800);">30</div>
<div class=t style="left:952.76px;top:1188.19px;font-size:19.5px;font-weight:400;color:#231f20;transform:scaleX(1.0800);">40</div>
<div class=t style="left:1015.73px;top:1188.19px;font-size:19.5px;font-weight:400;color:#231f20;transform:scaleX(1.0800);">50</div>
<div class=t style="left:1078.70px;top:1188.19px;font-size:19.5px;font-weight:400;color:#231f20;transform:scaleX(1.0800);">60</div>
<div class=t style="left:1141.67px;top:1188.19px;font-size:19.5px;font-weight:400;color:#231f20;transform:scaleX(1.0800);">70</div>
<div class=t style="left:253.60px;top:1209.69px;font-size:19.5px;font-weight:400;color:#231f20;transform:scaleX(1.0679);">Flow(lts/min)</div>
<div class=t style="left:870.30px;top:1208.99px;font-size:19.5px;font-weight:400;color:#231f20;transform:scaleX(1.0352);">Flow (lts/min)</div>
<div class=t style="left:725.27px;top:71.46px;font-size:16px;font-weight:400;color:#ffffff;transform:scaleX(0.9500);">1</div>
<div class=t style="left:802.57px;top:71.46px;font-size:16px;font-weight:400;color:#ffffff;transform:scaleX(0.9500);">2</div>
<div class=t style="left:877.37px;top:70.86px;font-size:16px;font-weight:400;color:#ffffff;transform:scaleX(0.9500);">3</div>
<div class=t style="left:958.87px;top:70.86px;font-size:16px;font-weight:400;color:#ffffff;transform:scaleX(0.9500);">4</div>
<div class=t style="left:1028.27px;top:70.86px;font-size:16px;font-weight:400;color:#ffffff;transform:scaleX(0.9500);">5</div>
<div class=t style="left:1084.77px;top:81.26px;font-size:16px;font-weight:400;color:#ffffff;transform:scaleX(0.9500);">6</div>
<div class=t style="left:1117.87px;top:164.06px;font-size:16px;font-weight:400;color:#ffffff;transform:scaleX(0.9500);">7</div>
<div class=t style="left:1134.47px;top:204.56px;font-size:16px;font-weight:400;color:#ffffff;transform:scaleX(0.9500);">8</div>
<div class=t style="left:1151.07px;top:350.06px;font-size:16px;font-weight:400;color:#ffffff;transform:scaleX(0.9500);">9</div>
<div class=t style="left:1146.85px;top:436.06px;font-size:16px;font-weight:400;color:#ffffff;transform:scaleX(0.9500);">10</div>
<div class=t style="left:1019.61px;top:436.06px;font-size:16px;font-weight:400;color:#ffffff;transform:scaleX(0.9500);">11</div>
<div class=t style="left:982.45px;top:436.06px;font-size:16px;font-weight:400;color:#ffffff;transform:scaleX(0.9500);">12</div>
<div class=t style="left:945.05px;top:436.06px;font-size:16px;font-weight:400;color:#ffffff;transform:scaleX(0.9500);">13</div>
<div class=t style="left:772.41px;top:334.06px;font-size:16px;font-weight:400;color:#ffffff;transform:scaleX(0.9500);">11</div>
<div class=t style="left:771.85px;top:375.46px;font-size:16px;font-weight:400;color:#ffffff;transform:scaleX(0.9500);">12</div>
<div class=t style="left:771.85px;top:416.96px;font-size:16px;font-weight:400;color:#ffffff;transform:scaleX(0.9500);">13</div>
<div class=t style="left:958.86px;top:548.35px;font-size:14px;font-weight:400;color:#808285;transform:scaleX(0.8000);">A</div>
<div class=t style="left:913.76px;top:577.15px;font-size:14px;font-weight:400;color:#808285;transform:scaleX(0.8000);">B</div>
<div class=t style="left:868.35px;top:619.55px;font-size:14px;font-weight:400;color:#808285;transform:scaleX(0.8000);">D</div>
<div class=t style="left:911.38px;top:831.75px;font-size:14px;font-weight:400;color:#808285;transform:scaleX(0.8000);">F</div>
</body></html>
